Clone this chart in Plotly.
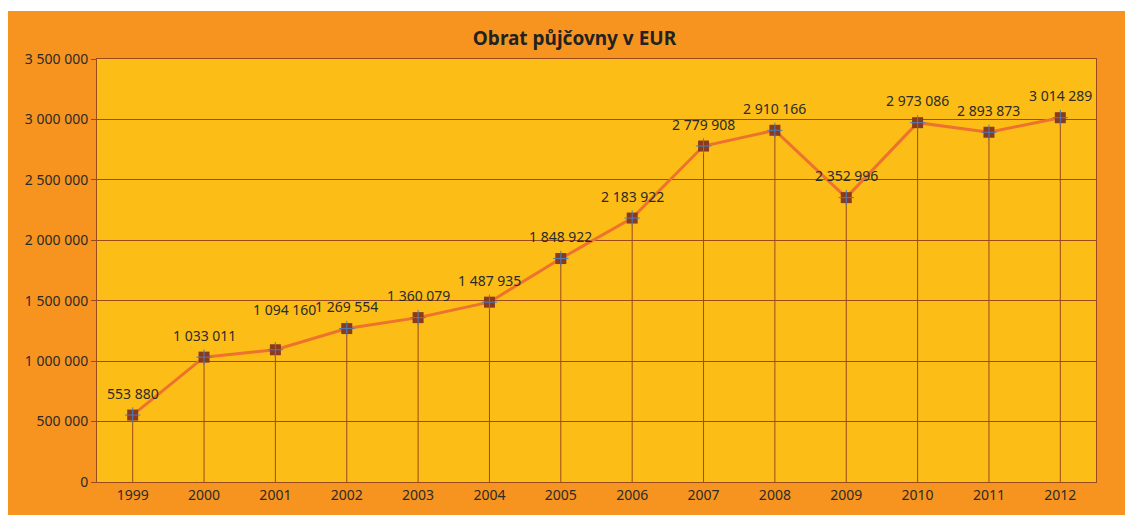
import plotly.graph_objects as go

years = ["1999", "2000", "2001", "2002", "2003", "2004", "2005", "2006",
         "2007", "2008", "2009", "2010", "2011", "2012"]
turnover = [553880, 1033011, 1094160, 1269554, 1360079, 1487935, 1848922,
            2183922, 2779908, 2910166, 2352996, 2973086, 2893873, 3014289]
y_ticks = [0, 500000, 1000000, 1500000, 2000000, 2500000, 3000000, 3500000]

ORANGE = "#F7941F"
YELLOW = "#FCBD16"
BROWN = "#9A4A1C"
FONT = "Noto Sans"
TXT = "#2b2b2b"

# label placement tweak (pixels) for the one label moved in the original
label_shift = {"2001": (9, 40)}


def fmt(v):
    return f"{v:,}".replace(",", " ")


fig = go.Figure()

fig.add_trace(go.Scatter(
    x=years, y=turnover, mode="lines+markers",
    line=dict(color="#EC722E", width=3),
    marker=dict(symbol="square", size=11, color="#8B3A1E",
                line=dict(width=0)),
    error_y=dict(type="data", symmetric=False, array=[0] * len(turnover),
                 arrayminus=turnover, color=BROWN, thickness=1, width=0),
    hoverinfo="x+y", showlegend=False,
))
fig.add_trace(go.Scatter(
    x=years, y=turnover, mode="markers",
    marker=dict(symbol="cross-thin", size=11, color="#4A7EBB",
                line=dict(color="#4A7EBB", width=1)),
    hoverinfo="skip", showlegend=False,
))

for i, (yr, v) in enumerate(zip(years, turnover)):
    dx, dy = label_shift.get(yr, (0, 22))
    fig.add_annotation(x=i, y=v, xref="x", yref="y", text=fmt(v),
                       showarrow=False, xanchor="center", yanchor="middle",
                       xshift=dx, yshift=dy,
                       font=dict(family=FONT, size=14, color=TXT))

fig.update_layout(
    width=1133, height=515,
    margin=dict(l=89, r=45, t=51, b=41),
    paper_bgcolor=ORANGE, plot_bgcolor=YELLOW,
    title=dict(text="<b>Obrat půjčovny v EUR</b>", x=0.5, xref="container",
               xanchor="center", y=1 - 30 / 515, yanchor="middle",
               font=dict(family=FONT, size=19, color="#222222")),
    font=dict(family=FONT, size=14, color=TXT),
    shapes=[
        dict(type="rect", xref="paper", yref="paper", x0=-0.2, x1=1.2,
             y0=(474 - 3) / 423, y1=1.3, fillcolor="white",
             line=dict(width=0), layer="above"),
    ],
)
fig.update_xaxes(
    type="category", range=[-0.5, len(years) - 0.5],
    showgrid=False, showline=True, linecolor=BROWN, linewidth=1,
    mirror=True, ticks="", tickfont=dict(size=14, color=TXT),
)
fig.update_yaxes(
    range=[0, 3500000], tickvals=y_ticks,
    ticktext=[fmt(v) for v in y_ticks],
    showgrid=True, gridcolor=BROWN, gridwidth=1,
    showline=True, linecolor=BROWN, linewidth=1, mirror=True,
    ticks="outside", ticklen=5, tickcolor=BROWN,
    zeroline=False, tickfont=dict(size=14, color=TXT),
)

fig.write_html("out.html")
